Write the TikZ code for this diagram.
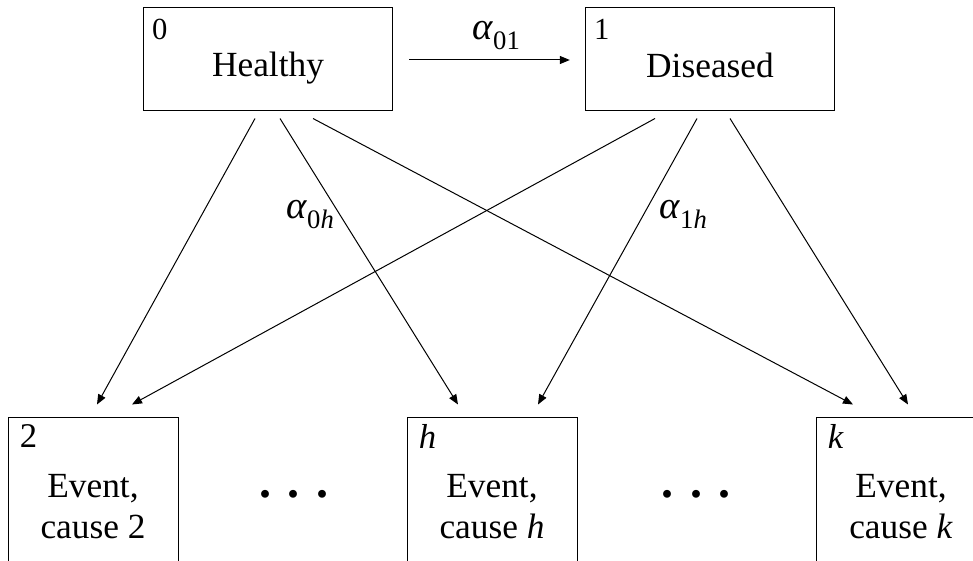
\documentclass[tikz,border=0pt]{standalone}
\usepackage{fontspec}
\setmainfont{Liberation Serif}
\usepackage{tikz}
\usetikzlibrary{arrows.meta}
\newcommand{\rate}[1]{\textit{α}\raisebox{-7.5pt}{\fontsize{20}{22}\selectfont #1}}

\begin{document}
\begin{tikzpicture}[x=0.75pt,y=-0.75pt,
  statebox/.style={draw, line width=0.75pt, minimum width=187pt, minimum height=76.5pt, inner sep=0pt},
  eventbox/.style={draw, line width=0.75pt, minimum width=127.5pt, minimum height=150pt, inner sep=0pt},
  numlbl/.style={anchor=north west, inner sep=0pt, font=\fontsize{23}{26}\selectfont},
  boxtxt/.style={anchor=base, inner sep=0pt, font=\fontsize{26.5}{32}\selectfont},
  ratelbl/.style={anchor=base west, inner sep=0pt, font=\fontsize{29}{32}\selectfont},
  dotsrow/.style={anchor=base, inner sep=0pt, font=\fontsize{36}{40}\selectfont\bfseries},
  trans/.style={-{Triangle[length=7.5pt,width=6pt]}, line width=0.75pt}]
\useasboundingbox (0,0) rectangle (973,560);
% Top states
\node[statebox] (healthy) at (268,59) {};
\node[statebox] (diseased) at (710,59) {};
\node[numlbl] (num0) at ([shift={(9,11)}]healthy.north west) {0};
\node[numlbl] (num1) at ([shift={(9,11)}]diseased.north west) {1};
\node[boxtxt] (healthyT) at (268,76) {Healthy};
\node[boxtxt] (diseasedT) at (710,77) {Diseased};
% Event states
\node[eventbox] (ev2) at (93,517) {};
\node[eventbox] (evh) at (492,517) {};
\node[eventbox] (evk) at (901,517) {};
\node[numlbl, font=\fontsize{26}{30}\selectfont] (num2) at ([shift={(12,8)}]ev2.north west) {2};
\node[numlbl, font=\fontsize{26}{30}\selectfont] (numh) at ([shift={(12,8)}]evh.north west) {\textit{h}};
\node[numlbl, font=\fontsize{26}{30}\selectfont] (numk) at ([shift={(12,8)}]evk.north west) {\textit{k}};
\node[boxtxt] (ev2A) at (93,497) {Event,};
\node[boxtxt] (ev2B) at (93,538) {cause 2};
\node[boxtxt] (evhA) at (492,497) {Event,};
\node[boxtxt] (evhB) at (492,538) {cause \textit{h}};
\node[boxtxt] (evkA) at (901,497) {Event,};
\node[boxtxt] (evkB) at (901,538) {cause \textit{k}};
\node[dotsrow] (dotsA) at (294,497) {.\hspace{12.75pt}.\hspace{12.75pt}.};
\node[dotsrow] (dotsB) at (696,497) {.\hspace{12.75pt}.\hspace{12.75pt}.};
% Transitions
\draw[trans] ([shift={(16,1)}]healthy.east) -- ([shift={(-15,1)}]diseased.west);
\node[ratelbl] (r01) at (472,40) {\rate{01}};
\draw[trans] ([shift={(-13,8)}]healthy.south) -- ([shift={(4,-12)}]ev2.north);
\draw[trans] ([shift={(12,8)}]healthy.south) -- ([shift={(-34,-12)}]evh.north);
\draw[trans] ([shift={(45,8)}]healthy.south) -- ([shift={(-48,-12)}]evk.north);
\draw[trans] ([shift={(-55,8)}]diseased.south) -- ([shift={(39,-12)}]ev2.north);
\draw[trans] ([shift={(-13,8)}]diseased.south) -- ([shift={(46,-12)}]evh.north);
\draw[trans] ([shift={(20,8)}]diseased.south) -- ([shift={(7,-12)}]evk.north);
\node[ratelbl] (r0h) at (286,218) {\rate{0\textit{h}}};
\node[ratelbl] (r1h) at (659,218) {\rate{1\textit{h}}};
\end{tikzpicture}
\end{document}
